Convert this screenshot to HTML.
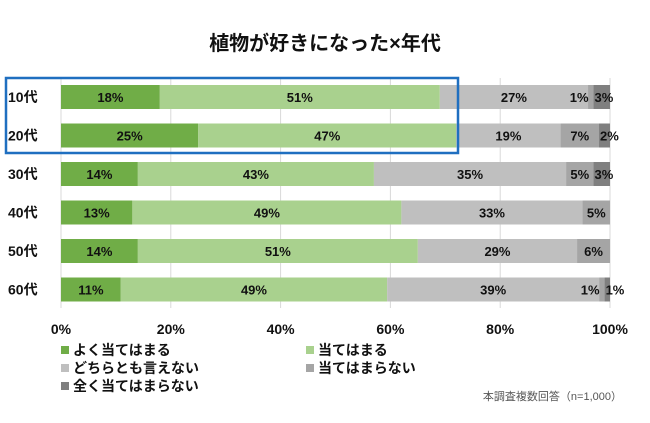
<!DOCTYPE html>
<html><head><meta charset="utf-8"><style>
body{margin:0;background:#fff;}
svg text{font-family:"Liberation Sans","Noto Sans CJK JP",sans-serif;}
</style></head><body>
<svg id="c" width="650" height="418" xmlns="http://www.w3.org/2000/svg">
<text x="325" y="50" text-anchor="middle" font-size="20" font-weight="bold" fill="#111">植物が好きになった×年代</text>
<g id="grid"></g><g id="bars"></g><g id="labels"></g><g id="ticks"></g>
<rect x="6" y="78" width="452" height="75" fill="none" stroke="#1f6fc0" stroke-width="2.5"/>
<g id="legend"></g>
<text x="622" y="400" text-anchor="end" font-size="11" fill="#555">本調査複数回答（n=1,000）</text>
</svg>
<script>
const categories=["10代","20代","30代","40代","50代","60代"];
const seriesNames=["よく当てはまる","当てはまる","どちらとも言えない","当てはまらない","全く当てはまらない"];
const s1=[18,25,14,13,14,11];
const s2=[51,47,43,49,51,49];
const s3=[27,19,35,33,29,39];
const s4=[1,7,5,5,6,1];
const s5=[3,2,3,0,0,1];
const tickLabels=["0%","20%","40%","60%","80%","100%"];
const tickValues=[0,20,40,60,80,100];
const colors=["#70ad47","#a9d18e","#bfbfbf","#a5a5a5","#7f7f7f"];
const NS="http://www.w3.org/2000/svg";
const x0=61,x1=610;
const xs=v=>x0+(x1-x0)*v/100;
const rowTop=i=>85+i*38.5, bh=24;
function mk(t,a,p){const e=document.createElementNS(NS,t);for(const k in a)e.setAttribute(k,a[k]);p.appendChild(e);return e;}
const G=document.getElementById('grid'),B=document.getElementById('bars'),L=document.getElementById('labels'),T=document.getElementById('ticks'),LG=document.getElementById('legend');
tickValues.forEach((v,i)=>{
 const l=mk('line',{x1:xs(v),x2:xs(v),y1:78,y2:308,stroke:'#d9d9d9','stroke-width':1},G);
 
 
 const t=mk('text',{x:xs(v),y:334,'text-anchor':'middle','font-size':14,'font-weight':'bold',fill:'#111'},T);
 t.textContent=tickLabels[i];
 
 
});
const series=[s1,s2,s3,s4,s5];
categories.forEach((c,i)=>{
 const y=rowTop(i);
 const t=mk('text',{x:8,y:y+bh/2+5,'font-size':14,'font-weight':'bold',fill:'#111'},L);
 t.textContent=c;
 
 
 const tot=series.reduce((a,s)=>a+s[i],0);
 const sc=100/tot;
 let acc=0;
 series.forEach((s,k)=>{
  const v=s[i];
  if(v<=0){return;}
  const a0=xs(acc*sc), a1=xs((acc+v)*sc);
  const r=mk('rect',{x:a0,y:y,width:a1-a0,height:bh,fill:colors[k]},B);
  
  
  let cx=(a0+a1)/2, anc='middle';
  if(k===4){cx=a0+1;anc='start';}
  else if(k===3 && v<=3){cx=a1-5;anc='end';}
  const tx=mk('text',{x:cx,y:y+bh/2+5,'text-anchor':anc,'font-size':13,'font-weight':'bold',fill:'#111'},L);
  tx.textContent=v+"%";
  
  
  acc+=v;
 });
});
const lp=[[61,355],[306,355],[61,373],[306,373],[61,391]];
seriesNames.forEach((n,k)=>{
 const r=mk('rect',{x:lp[k][0],y:lp[k][1]-9,width:8,height:8,fill:colors[k]},LG);
 
 
 const t=mk('text',{x:lp[k][0]+12,y:lp[k][1],'font-size':14,'font-weight':'bold',fill:'#111'},LG);
 t.textContent=n;
 
 
});
</script>
</body></html>
